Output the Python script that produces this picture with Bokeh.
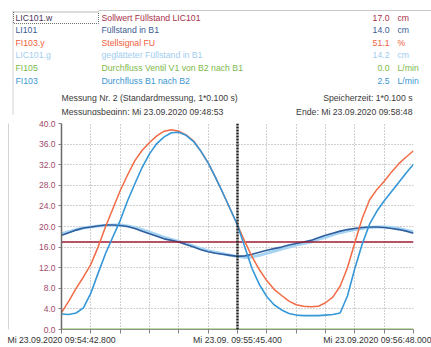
from bokeh.plotting import figure
from bokeh.models import (Range1d, FixedTicker, Span, PrintfTickFormatter, ColumnDataSource,
                          LinearAxis)
from bokeh.core.properties import value
from bokeh.embed import file_html
from bokeh.resources import INLINE

# ---------------- data ----------------
# seconds after Mi 23.09.2020 09:54:42.800
t_s = [0.0, 2.6, 5.2, 7.8, 10.4, 13.0, 15.7, 18.3, 20.9, 23.5, 26.1, 28.7, 31.3,
       33.9, 36.5, 39.1, 41.7, 44.3, 47.0, 49.6, 52.2, 54.8, 57.4, 60.0, 62.6,
       65.2, 67.8, 70.4, 73.0, 75.6, 78.3, 80.9, 83.5, 86.1, 88.7, 91.3, 93.9,
       96.5, 99.1, 101.7, 104.3, 106.9, 109.6, 112.2, 114.8, 117.4, 120.0, 122.6, 125.2]

# FI103.y  Stellsignal FU
fi103y = [3.3, 5.5, 8.0, 10.2, 12.6, 16.0, 20.0, 23.5, 27.0, 30.0, 32.8, 34.8, 36.3,
          37.6, 38.5, 38.8, 38.5, 37.8, 36.6, 34.6, 32.3, 29.5, 26.5, 23.4, 20.3,
          17.1, 14.1, 11.6, 9.5, 7.8, 6.6, 5.5, 4.8, 4.5, 4.4, 4.5, 5.2,
          6.3, 8.4, 12.0, 16.8, 21.5, 25.2, 27.2, 28.8, 30.6, 32.2, 33.5, 34.7]

# FI103  Durchfluss B1 nach B2
fi103 = [3.0, 2.9, 3.2, 4.2, 7.0, 10.9, 14.8, 18.0, 21.2, 25.0, 28.3, 31.5, 34.1,
         36.1, 37.4, 38.2, 38.3, 37.7, 36.5, 34.6, 32.3, 29.5, 26.5, 23.4, 20.3,
         16.0, 11.8, 8.7, 6.4, 4.8, 3.8, 3.1, 2.8, 2.7, 2.7, 2.7, 2.8,
         2.9, 3.2, 6.5, 11.8, 16.5, 20.5, 23.0, 25.0, 26.8, 28.6, 30.4, 32.1]

# LI101  Füllstand in B1
li101 = [18.3, 18.8, 19.3, 19.7, 19.9, 20.1, 20.3, 20.3, 20.2, 20.0, 19.6, 19.1, 18.6,
         18.1, 17.6, 17.3, 17.0, 16.5, 16.0, 15.5, 15.1, 14.8, 14.6, 14.4, 14.2,
         14.3, 14.6, 15.0, 15.4, 15.7, 16.0, 16.4, 16.7, 17.0, 17.3, 17.8, 18.3,
         18.7, 19.1, 19.4, 19.6, 19.8, 19.9, 19.9, 19.8, 19.6, 19.4, 19.1, 18.7]

# LIC101.g  geglätteter Füllstand in B1
lic101g = [18.6, 19.0, 19.4, 19.7, 19.9, 20.1, 20.2, 20.3, 20.3, 20.1, 19.8, 19.4, 18.9,
           18.4, 17.9, 17.5, 17.1, 16.7, 16.2, 15.7, 15.3, 15.0, 14.7, 14.4, 14.2,
           14.0, 14.1, 14.4, 14.8, 15.2, 15.6, 16.0, 16.4, 16.7, 17.0, 17.5, 17.9,
           18.4, 18.8, 19.1, 19.4, 19.6, 19.8, 19.9, 19.9, 19.8, 19.6, 19.3, 19.0]

lic101w = 17.0   # Sollwert
fi105 = 0.0      # Durchfluss Ventil V1
cursor_t = 62.6

x_ticks = [0.0, 10.433, 20.867, 31.3, 41.733, 52.167, 62.6, 73.033, 83.467, 93.9,
           104.333, 114.767, 125.2]
x_tick_labels = ["Mi 23.09.2020 09:54:42.800", "", "", "", "", "",
                 "Mi 23.09. 09:55:45.400", "", "", "", "", "",
                 "Mi 23.09.2020 09:56:48.000"]
y_ticks = [0, 4, 8, 12, 16, 20, 24, 28, 32, 36, 40]

tags = ["LIC101.w", "LI101", "FI103.y", "LIC101.g", "FI105", "FI103"]
descs = ["Sollwert Füllstand LIC101", "Füllstand in B1", "Stellsignal FU",
         "geglätteter Füllstand in B1", "Durchfluss Ventil V1 von B2 nach B1",
         "Durchfluss B1 nach B2"]
vals = ["17.0", "14.0", "51.1", "14.2", "0.0", "2.5"]
units = ["cm", "cm", "%", "cm", "L/min", "L/min"]
row_colors = ["#A8304A", "#3C5C96", "#F0603A", "#9FCDF0", "#7DB84A", "#3A96D6"]
tag_colors = ["#4A3358", "#3C5C96", "#F0603A", "#9FCDF0", "#7DB84A", "#3A96D6"]

head_left = ["Messung Nr. 2 (Standardmessung, 1*0.100 s)",
             "Messungsbeginn: Mi 23.09.2020 09:48:53"]
head_right = ["Speicherzeit: 1*0.100 s", "Ende: Mi 23.09.2020 09:58:48"]

FONT = "Liberation Sans"
FS = "8.7px"
BORDER = "#D4D4D4"

# ---------------- top panel: table + header (pixel coordinates) ----------------
W = 431
TOP_H = 115
top = figure(width=W, height=TOP_H, output_backend="svg", toolbar_location=None,
             x_range=Range1d(0, W), y_range=Range1d(TOP_H, 0),
             min_border=0, min_border_left=0, min_border_right=0,
             min_border_top=0, min_border_bottom=0)
top.axis.visible = False
top.grid.visible = False
top.outline_line_color = None
top.background_fill_color = "white"
top.border_fill_color = "white"

row_y0, row_dy = 17.0, 12.6
row_y = [row_y0 + i * row_dy for i in range(len(tags))]

# panel border
top.line([12.5, 12.5], [TOP_H, 10], line_color=BORDER, line_width=1)
top.line([98, W], [10, 10], line_color="#C8C8C8", line_width=1)
# focus rectangle around first tag
top.quad(left=13, right=98, top=11.5, bottom=23, fill_color=None,
         line_color="#707070", line_dash="1 1", line_width=1)

src = ColumnDataSource(dict(y=row_y, tag=tags, desc=descs, val=vals, unit=units,
                            rc=row_colors, tc=tag_colors))
common = dict(source=src, y="y", text_baseline="middle", text_font=value(FONT),
              text_font_size=FS)
top.text(x=15, text="tag", text_color="tc", **common)
top.text(x=101, text="desc", text_color="rc", **common)
top.text(x=389, text="val", text_color="rc", text_align="right", **common)
top.text(x=397, text="unit", text_color="rc", **common)

top.text(x=[61, 61], y=[97, 111], text=head_left, text_color="#3A3A3A",
         text_baseline="middle", text_font=value(FONT), text_font_size=FS)
top.text(x=[412, 412], y=[97, 111], text=head_right, text_color="#3A3A3A",
         text_baseline="middle", text_align="right", text_font=value(FONT),
         text_font_size=FS)

# ---------------- chart ----------------
H = 347 - TOP_H
FL, FT, FR, FB = 61, 123 - TOP_H, 413, 330 - TOP_H

p = figure(width=W, height=H, output_backend="svg", toolbar_location=None,
           x_range=Range1d(0, 125.2), y_range=Range1d(0, 40),
           min_border_left=FL, min_border_right=W - FR,
           min_border_top=FT, min_border_bottom=H - FB)
p.outline_line_color = None
p.background_fill_color = "white"
p.border_fill_color = "white"

p.xaxis.ticker = FixedTicker(ticks=x_ticks)
p.xaxis.major_label_overrides = dict(zip(x_ticks, x_tick_labels))
p.xaxis.major_label_text_font = FONT
p.xaxis.major_label_text_font_size = "8.7px"
p.xaxis.major_label_text_color = "#333333"
p.xaxis.major_label_standoff = 1
p.xaxis.major_tick_out = 4
p.xaxis.major_tick_in = 0
p.xaxis.minor_tick_line_color = None
p.xaxis.axis_line_color = "#909090"
p.xaxis.major_tick_line_color = "#808080"

p.yaxis.ticker = FixedTicker(ticks=y_ticks)
p.yaxis.formatter = PrintfTickFormatter(format="%.1f")
p.yaxis.major_label_text_font = FONT
p.yaxis.major_label_text_font_size = "8.5px"
p.yaxis.major_label_text_color = "#A04A6A"
p.yaxis.major_label_standoff = 3
p.yaxis.major_tick_out = 3
p.yaxis.major_tick_in = 0
p.yaxis.minor_tick_line_color = None
p.yaxis.axis_line_color = "#6A6A6A"
p.yaxis.axis_line_width = 1.5
p.yaxis.major_tick_line_color = "#808080"
# invisible axis label only to widen the axis panel, so that the outer
# (line-only) axis below sits at the panel border position
p.yaxis.axis_label = " "
p.yaxis.axis_label_text_font_size = "10px"
p.yaxis.axis_label_standoff = 13

border_axis = LinearAxis(ticker=FixedTicker(ticks=[]), major_label_text_font_size="0px",
                         major_tick_line_color=None, minor_tick_line_color=None,
                         axis_line_color=BORDER, axis_line_width=1,
                         major_label_standoff=0)
p.add_layout(border_axis, "left")

for g in (p.xgrid, p.ygrid):
    g.grid_line_color = "#A0A0A0"
    g.grid_line_dash = "1 2"
    g.grid_line_width = 1

# series
p.line(t_s, lic101g, line_color="#A6D4F2", line_width=3)
p.line(t_s, li101, line_color="#2F5E9E", line_width=1.6)
p.line([t_s[0], t_s[-1]], [lic101w, lic101w], line_color="#9B1B30", line_width=1.5)
p.line(t_s, fi103y, line_color="#F26B45", line_width=1.5)
p.line(t_s, fi103, line_color="#3597D8", line_width=1.6)
p.line([t_s[0], t_s[-1]], [fi105, fi105], line_color="#7CC043", line_width=2)

p.add_layout(Span(location=cursor_t, dimension="height", line_color="#222222",
                  line_width=2.5, line_dash="2 1"))

# two independent roots (no frame alignment between them), stacked vertically
open("out.html", "w").write(file_html([top, p], INLINE))
